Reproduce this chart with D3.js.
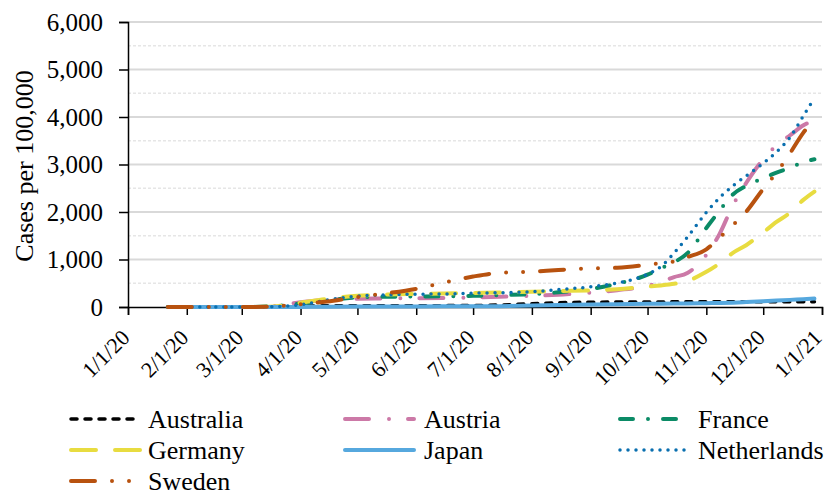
<!DOCTYPE html>
<html>
<head>
<meta charset="utf-8">
<script src="https://cdn.jsdelivr.net/npm/d3@7"></script>
<style>
  html, body { margin: 0; padding: 0; background: #ffffff; }
  svg { display: block; }
</style>
</head>
<body>
<svg id="chart" width="827" height="495"></svg>
<script>
// ---------- data (cases per 100,000) ----------
const dates = ["2020-01-22","2020-02-01","2020-02-15","2020-03-01","2020-03-15","2020-04-01","2020-04-15","2020-05-01","2020-05-15","2020-06-01","2020-06-15","2020-07-01","2020-07-15","2020-08-01","2020-08-15","2020-09-01","2020-09-15","2020-10-01","2020-10-08","2020-10-15","2020-10-22","2020-11-01","2020-11-08","2020-11-15","2020-11-22","2020-12-01","2020-12-08","2020-12-15","2020-12-22","2020-12-28"];
const australia   = [0,0,0,0,1,19,25,27,28,28,29,31,42,68,89,100,104,107,107,108,108,108,109,109,109,110,110,111,112,112];
const austria     = [0,0,0,0,10,100,155,175,180,185,190,200,215,235,260,300,355,448,530,630,715,1100,1540,2140,2610,3110,3400,3610,3820,3940];
const france      = [0,0,0,0,10,75,140,200,215,220,225,235,250,270,310,380,490,680,817,943,1130,1664,2030,2370,2550,2710,2830,2926,3050,3110];
const germany     = [0,0,0,0,5,90,170,235,260,275,285,295,305,320,335,350,375,430,455,490,550,740,920,1140,1300,1570,1790,1980,2250,2430];
const japan       = [0,0,0,0,1,2,7,11,13,13,14,15,18,29,42,54,60,66,69,72,75,80,85,92,103,120,135,150,165,178];
const netherlands = [0,0,0,0,5,50,145,230,253,270,272,290,301,320,366,425,505,690,850,1137,1470,1990,2300,2550,2760,3025,3265,3565,4010,4400];
const sweden      = [0,0,0,0,5,60,115,210,281,383,508,641,720,743,779,812,827,890,927,960,1052,1215,1460,1725,2006,2486,2830,3230,3660,3950];

const seriesNames = ["Australia","Austria","France","Germany","Japan","Netherlands","Sweden"];
const seriesValues = [australia, austria, france, germany, japan, netherlands, sweden];
const xTickLabels = ["1/1/20","2/1/20","3/1/20","4/1/20","5/1/20","6/1/20","7/1/20","8/1/20","9/1/20","10/1/20","11/1/20","12/1/20","1/1/21"];
const yTicks = [0,1000,2000,3000,4000,5000,6000];
const yMinorTicks = [500,1500,2500,3500,4500,5500];
const yTitle = "Cases per 100,000";

// ---------- styles ----------
const FONT = '"Liberation Serif", "Times New Roman", serif';
const styles = {
  Australia:   {color: "#000000", width: 3.5, dash: "6 8"},
  Austria:     {color: "#CC79A7", width: 4,   dash: "24 20 0 19"},
  France:      {color: "#0B8B66", width: 4,   dash: "13 15 0 15"},
  Germany:     {color: "#E8DC40", width: 4,   dash: "25 19"},
  Japan:       {color: "#56A8DE", width: 4,   dash: null},
  Netherlands: {color: "#0A6FAF", width: 3.5, dash: "0 8"},
  Sweden:      {color: "#B8520F", width: 4,   dash: "24 17 0 17 0 17"}
};

const parse = d3.timeParse("%Y-%m-%d");
const svg = d3.select("#chart");

const mLeft = 128, mRight = 822, mTop = 22, mBottom = 307;
const x = d3.scaleTime().domain([parse("2020-01-01"), parse("2021-01-01")]).range([mLeft, mRight]);
const y = d3.scaleLinear().domain([0, 6000]).range([mBottom, mTop]);

// gridlines
svg.append("g").selectAll("line").data(yMinorTicks).join("line")
  .attr("x1", mLeft).attr("x2", mRight)
  .attr("y1", d => y(d)).attr("y2", d => y(d))
  .attr("stroke", "#e6e6e6").attr("stroke-width", 1.5).attr("stroke-dasharray", "3 2");
svg.append("g").selectAll("line").data(yTicks.filter(d => d > 0)).join("line")
  .attr("x1", mLeft).attr("x2", mRight)
  .attr("y1", d => y(d)).attr("y2", d => y(d))
  .attr("stroke", "#d9d9d9").attr("stroke-width", 2);

// y axis
const yAxis = d3.axisLeft(y).tickValues(yTicks).tickSize(9).tickPadding(16)
  .tickFormat(d3.format(","));
const gy = svg.append("g").attr("transform", `translate(${mLeft},0)`).call(yAxis);
gy.select(".domain").attr("stroke", "#000").attr("stroke-width", 1.5);
gy.selectAll(".tick line").attr("stroke", "#000").attr("stroke-width", 1.5);
gy.selectAll(".tick text").style("font-family", FONT).style("font-size", "25px").attr("fill", "#000");

// x axis
const monthTicks = d3.timeMonth.range(parse("2020-01-01"), parse("2021-01-02"));
const xAxis = d3.axisBottom(x).tickValues(monthTicks).tickSize(8).tickFormat("");
const gx = svg.append("g").attr("transform", `translate(0,${mBottom})`).call(xAxis);
gx.select(".domain").attr("stroke", "#000").attr("stroke-width", 1.5);
gx.selectAll(".tick line").attr("stroke", "#000").attr("stroke-width", 1.5);

svg.append("g").selectAll("text").data(monthTicks).join("text")
  .attr("transform", (d) => `translate(${Math.min(x(d) + 3, 823)},${mBottom + 32}) rotate(-45)`)
  .attr("text-anchor", "end")
  .style("font-family", FONT)
  .style("font-size", "22px")
  .attr("fill", "#000")
  .text((d, i) => xTickLabels[i]);

// y title
svg.append("text")
  .attr("transform", `translate(33,166) rotate(-90)`)
  .attr("text-anchor", "middle")
  .style("font-family", FONT)
  .style("font-size", "26px")
  .attr("fill", "#000")
  .text(yTitle);

// lines
const line = d3.line()
  .x(d => x(d.date)).y(d => y(d.value))
  .curve(d3.curveMonotoneX);

seriesNames.forEach((name, si) => {
  const pts = dates.map((ds, i) => ({date: parse(ds), value: seriesValues[si][i]}));
  const st = styles[name];
  svg.append("path")
    .datum(pts)
    .attr("d", line)
    .attr("fill", "none")
    .attr("stroke", st.color)
    .attr("stroke-width", st.width)
    .attr("stroke-linecap", "round")
    .attr("stroke-linejoin", "round")
    .attr("stroke-dasharray", st.dash);
});

// legend
const legCols = [{lx1: 71, lx2: 141, tx: 148}, {lx1: 345, lx2: 414, tx: 424}, {lx1: 620, lx2: 690, tx: 698}];
const legRows = [419, 450, 481];
seriesNames.forEach((name, i) => {
  const c = legCols[i % 3], r = legRows[Math.floor(i / 3)];
  const st = styles[name];
  svg.append("line")
    .attr("x1", c.lx1).attr("x2", c.lx2).attr("y1", r).attr("y2", r)
    .attr("stroke", st.color).attr("stroke-width", st.width)
    .attr("stroke-linecap", "round")
    .attr("stroke-dasharray", st.dash);
  svg.append("text")
    .attr("x", c.tx).attr("y", r + 9)
    .style("font-family", FONT)
    .style("font-size", "26px")
    .attr("fill", "#000")
    .text(name);
});
</script>
</body>
</html>
